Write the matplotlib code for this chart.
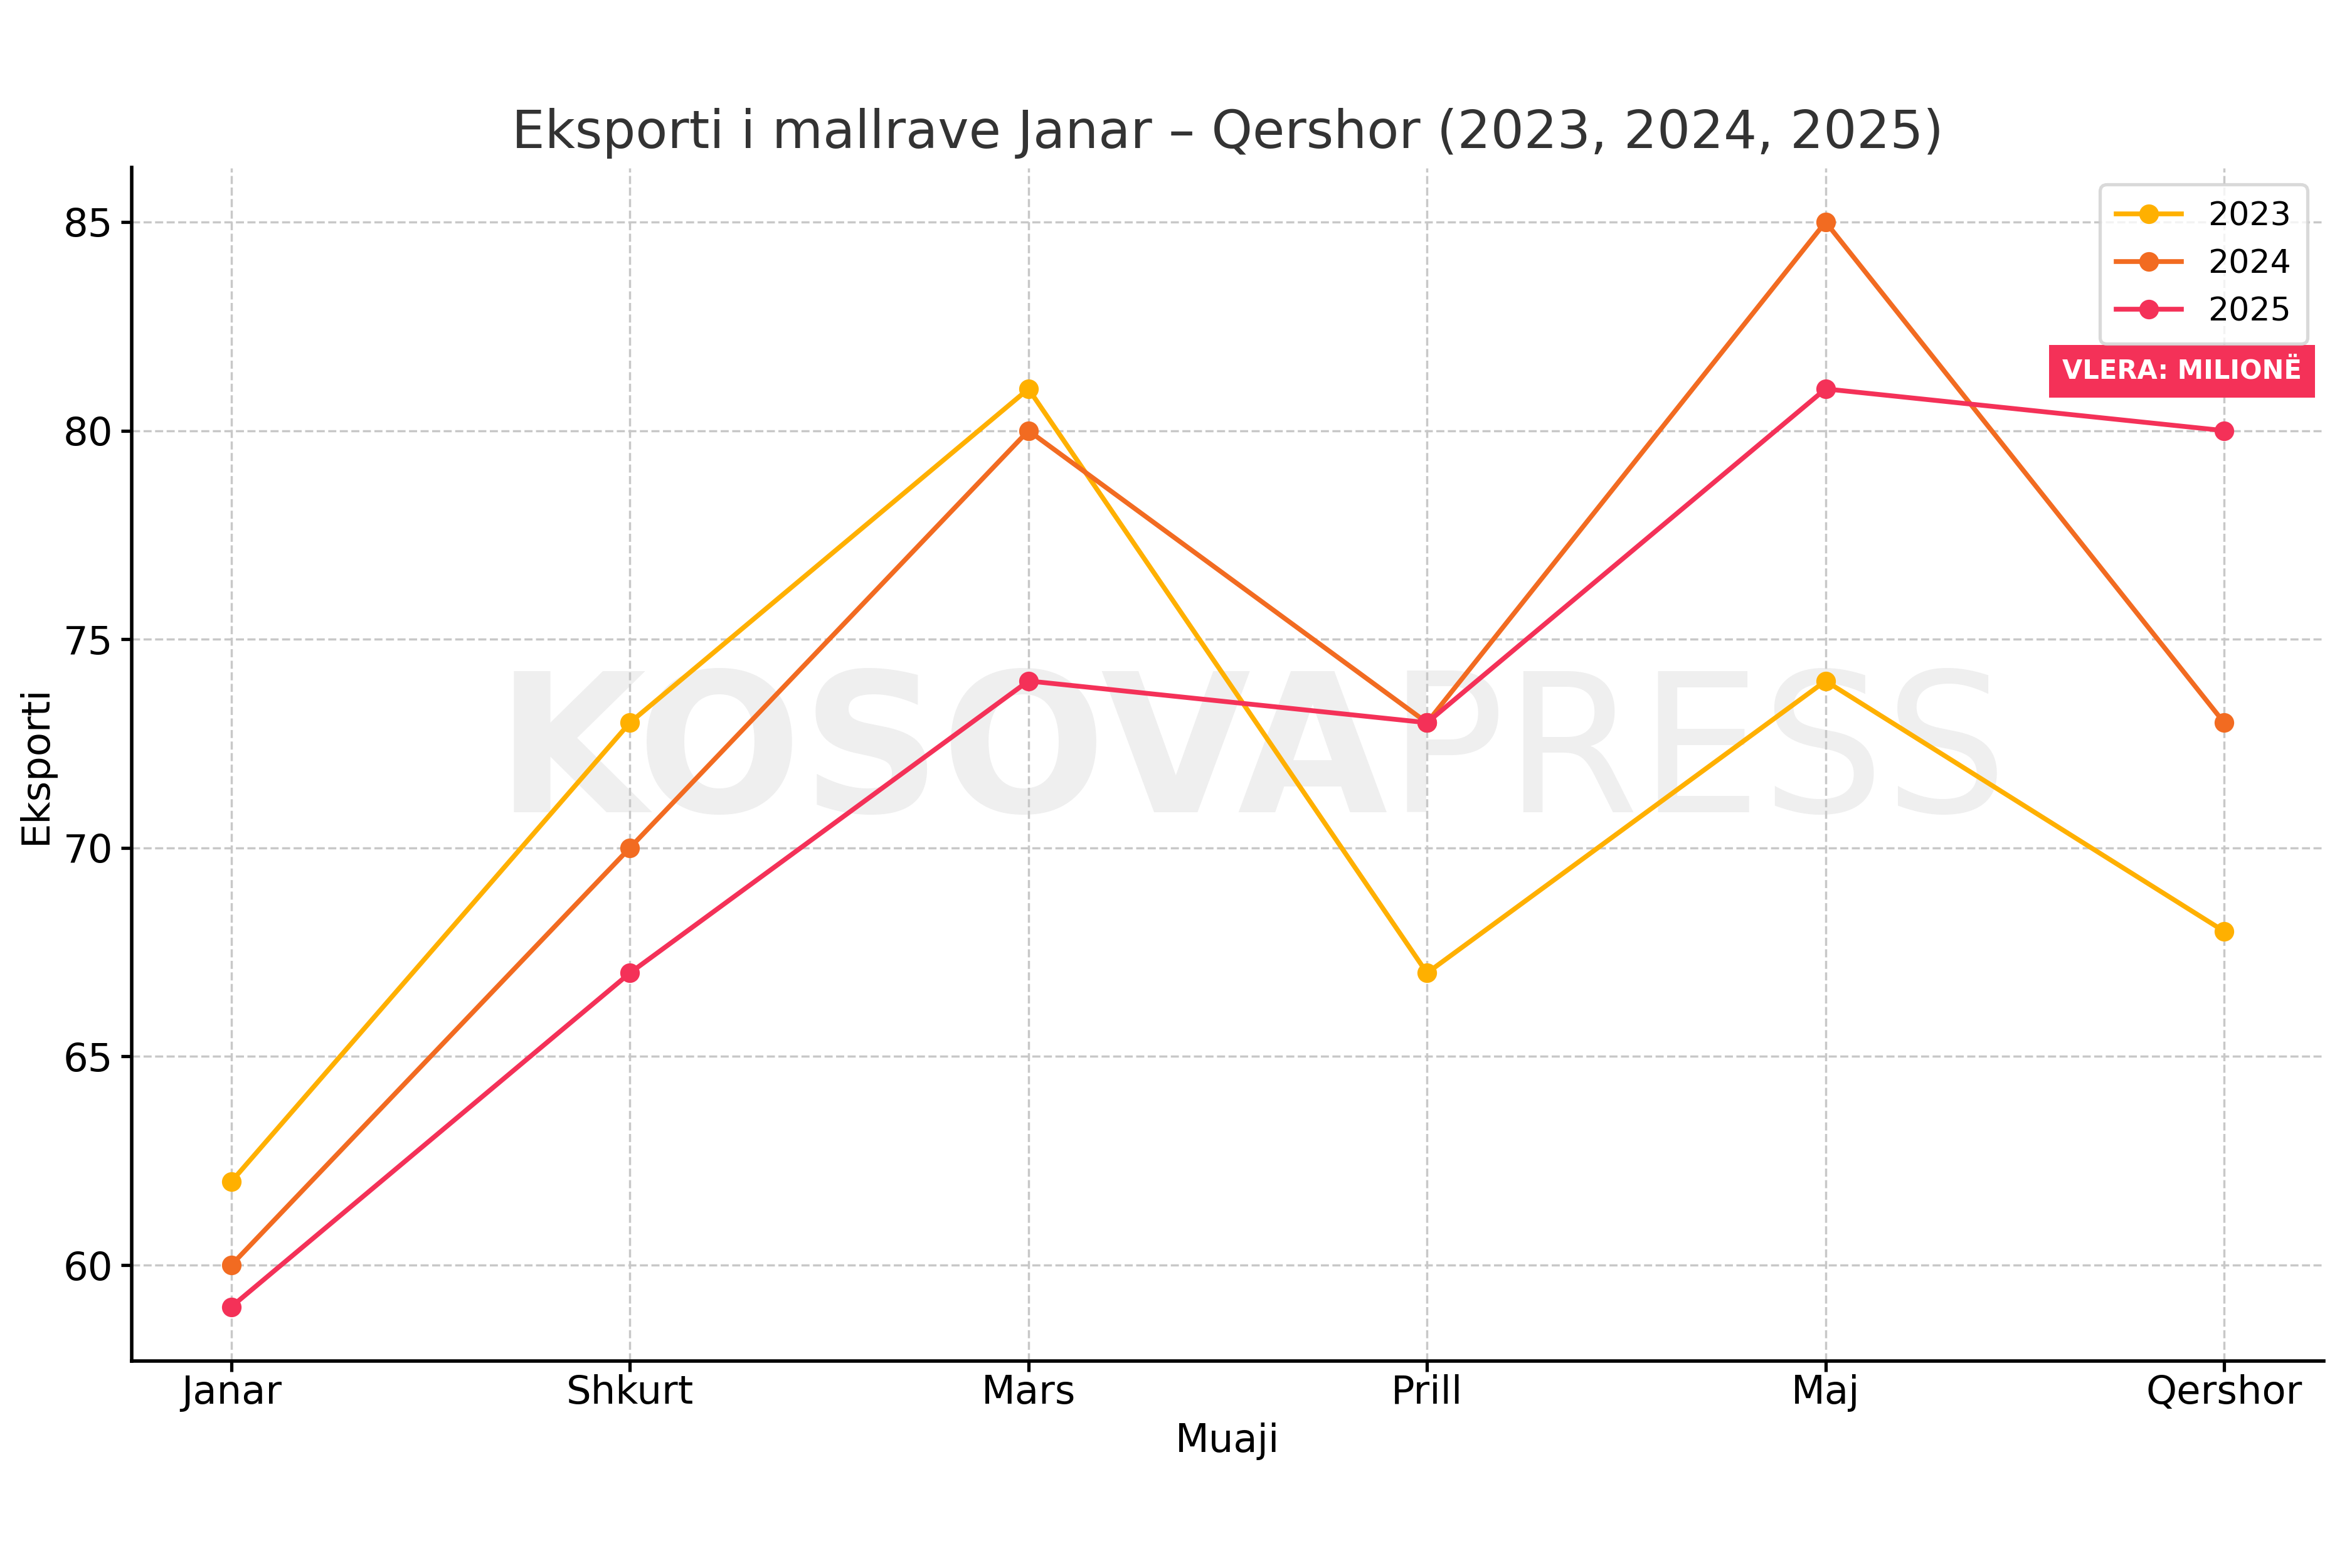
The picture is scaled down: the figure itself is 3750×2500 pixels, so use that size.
import matplotlib
matplotlib.use("Agg")
import matplotlib.pyplot as plt

muajt = ["Janar", "Shkurt", "Mars", "Prill", "Maj", "Qershor"]
vitet = ["2023", "2024", "2025"]
eksport_2023 = [62, 73, 81, 67, 74, 68]
eksport_2024 = [60, 70, 80, 73, 85, 73]
eksport_2025 = [59, 67, 74, 73, 81, 80]
ngjyrat = ["#FFB000", "#F26B21", "#F43158"]

plt.rcParams['font.family'] = ['DejaVu Sans']

fig, ax = plt.subplots(figsize=(15, 10), dpi=250)
fig.subplots_adjust(left=0.056, right=0.988, top=0.893, bottom=0.132)

# watermark
ax.text(0.573, 0.505, "KOSOVA", transform=ax.transAxes, ha='right', va='center',
        fontsize=89, fontweight='bold', color='#efefef', zorder=0)
ax.text(0.573, 0.505, "PRESS", transform=ax.transAxes, ha='left', va='center',
        fontsize=89, color='#efefef', zorder=0)

x = range(len(muajt))
for vals, lbl, c in zip([eksport_2023, eksport_2024, eksport_2025], vitet, ngjyrat):
    ax.plot(x, vals, marker='o', color=c, label=lbl, linewidth=2.2, markersize=8, zorder=3)

ax.set_xticks(list(x))
ax.set_xticklabels(muajt)
ax.tick_params(axis='both', labelsize=18, width=1.5, length=5)
ax.tick_params(axis='x', pad=1)
ax.set_xlabel("Muaji", fontsize=18, labelpad=5)
ax.set_ylabel("Eksporti", fontsize=18)
ax.set_title("Eksporti i mallrave Janar – Qershor (2023, 2024, 2025)",
             fontsize=24, color='#333333', pad=9)

ax.grid(True, linestyle='--', color='#c8c8c8', linewidth=1)
ax.set_axisbelow(True)
for s in ['top', 'right']:
    ax.spines[s].set_visible(False)
for s in ['left', 'bottom']:
    ax.spines[s].set_linewidth(1.6)

leg = ax.legend(loc='upper right', fontsize=15, frameon=True, borderpad=0.5,
                labelspacing=0.5, borderaxespad=0, bbox_to_anchor=(0.9925, 0.986))
leg.get_frame().set_edgecolor('#d0d0d0')
leg.get_frame().set_linewidth(1.5)

ax.text(0.99, 0.8295, "VLERA: MILIONË", transform=ax.transAxes, ha='right', va='center',
        fontsize=12, fontweight='bold', color='white', zorder=5,
        bbox=dict(boxstyle='square,pad=0.5', facecolor='#F43158', edgecolor='none'))

fig.savefig("out.png", dpi=250)
